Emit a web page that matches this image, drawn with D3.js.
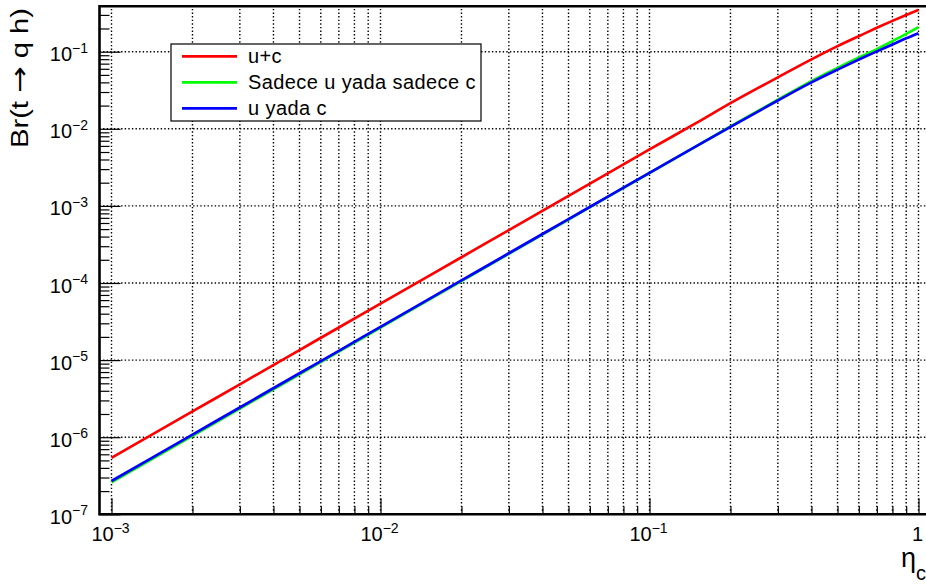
<!DOCTYPE html>
<html>
<head>
<meta charset="utf-8">
<script src="https://cdn.jsdelivr.net/npm/d3@7"></script>
<style>
  html, body { margin: 0; padding: 0; background: #fff; }
  svg { display: block; }
  text { font-family: "Liberation Sans", Arial, Helvetica, sans-serif; fill: #000; }
</style>
</head>
<body>
<svg id="chart" width="926" height="588"></svg>
<script>
// ---------------- data ----------------
const eta = [0.001, 0.002, 0.003, 0.005, 0.007, 0.01, 0.02, 0.03, 0.05, 0.07, 0.1,
             0.15, 0.2, 0.3, 0.4, 0.5, 0.6, 0.7, 0.8, 0.9, 1.0];
const brUC = [5.4e-7, 2.16e-6, 4.85e-6, 1.35e-5, 2.65e-5, 5.4e-5, 2.16e-4, 4.86e-4, 1.35e-3, 2.64e-3, 5.4e-3,
              1.2e-2, 2.15e-2, 4.65e-2, 7.95e-2, 0.118, 0.159, 0.204, 0.251, 0.30, 0.35];
const brOnly = [2.6e-7, 1.04e-6, 2.35e-6, 6.55e-6, 1.29e-5, 2.64e-5, 1.06e-4, 2.39e-4, 6.65e-4, 1.31e-3, 2.67e-3,
                6.0e-3, 1.07e-2, 2.38e-2, 4.15e-2, 0.0615, 0.084, 0.108, 0.137, 0.17, 0.208];
const brOr = [2.7e-7, 1.08e-6, 2.43e-6, 6.75e-6, 1.32e-5, 2.7e-5, 1.08e-4, 2.43e-4, 6.74e-4, 1.32e-3, 2.68e-3,
              6.0e-3, 1.06e-2, 2.33e-2, 4.0e-2, 0.0585, 0.079, 0.101, 0.124, 0.149, 0.174];
const seriesNames = ["u+c", "Sadece u yada sadece c", "u yada c"];
const seriesColors = ["#ff0000", "#00ff00", "#0000ff"];
const xMajorTicks = [1e-3, 1e-2, 1e-1, 1];
const xTickLabels = [["10", "\u22123"], ["10", "\u22122"], ["10", "\u22121"], ["1", ""]];
const yMajorTicks = [1e-7, 1e-6, 1e-5, 1e-4, 1e-3, 1e-2, 1e-1];
const yTickLabels = [["10","\u22127"],["10","\u22126"],["10","\u22125"],["10","\u22124"],["10","\u22123"],["10","\u22122"],["10","\u22121"]];
const xTitle = ["\u03b7", "c"];
const yTitleParts = ["Br(t ", "\u2192", " q h)"];

// ---------------- layout ----------------
const W = 926, H = 588;
const frameL = 99.5, frameT = 6.2, frameB = 514.3, frameR = 940;
const x = d3.scaleLog().domain([1e-3, 1]).range([111.5, 918.5]);
const y = d3.scaleLog().domain([1e-7, 1e-1]).range([514.3, 51.7]);

const xLo = x.invert(frameL), xHi = x.invert(frameR);
const yTop = y.invert(frameT);

function minorTicks(lo, hi) {
  const out = [];
  for (let e = Math.floor(Math.log10(lo)); e <= Math.ceil(Math.log10(hi)); e++) {
    for (let m = 2; m <= 9; m++) {
      const v = m * Math.pow(10, e);
      if (v > lo && v < hi) out.push(v);
    }
  }
  return out;
}
const xMinor = minorTicks(xLo, xHi);
const yMinor = minorTicks(1e-7, yTop);

const svg = d3.select("#chart");
svg.append("rect").attr("width", W).attr("height", H).attr("fill", "#fff");

// ---------------- grid ----------------
const grid = svg.append("g").attr("stroke", "#000").attr("stroke-width", 1.4).attr("stroke-dasharray", "1.4,2.2");
grid.selectAll("line.vx").data(xMajorTicks.concat(xMinor)).join("line")
  .attr("x1", d => x(d)).attr("x2", d => x(d))
  .attr("y1", frameB).attr("y2", frameT);
grid.selectAll("line.hy").data(yMajorTicks.filter(v => v > 1e-7)).join("line")
  .attr("class", "hy")
  .attr("x1", frameL).attr("x2", frameR)
  .attr("y1", d => y(d)).attr("y2", d => y(d));

// ---------------- curves ----------------
svg.append("clipPath").attr("id", "clip").append("rect")
  .attr("x", frameL).attr("y", frameT).attr("width", frameR - frameL).attr("height", frameB - frameT);
const line = d3.line().x(d => x(d[0])).y(d => y(d[1])).curve(d3.curveMonotoneX);
const allSeries = [brUC, brOnly, brOr];
const curves = svg.append("g").attr("clip-path", "url(#clip)");
allSeries.forEach((s, i) => {
  curves.append("path")
    .attr("d", line(eta.map((e, j) => [e, s[j]])))
    .attr("fill", "none")
    .attr("stroke", seriesColors[i])
    .attr("stroke-width", 2.7)
    .attr("stroke-linejoin", "round");
});

// ---------------- axes ----------------
const gx = svg.append("g").attr("transform", `translate(0,${frameB})`);
gx.call(d3.axisBottom(x).tickValues(xMajorTicks).tickSize(-16).tickFormat(""));
const gxm = svg.append("g").attr("transform", `translate(0,${frameB})`);
gxm.call(d3.axisBottom(x).tickValues(xMinor).tickSize(-8).tickFormat(""));
const gy = svg.append("g").attr("transform", `translate(${frameL},0)`);
gy.call(d3.axisLeft(y).tickValues(yMajorTicks).tickSize(-21).tickFormat(""));
const gym = svg.append("g").attr("transform", `translate(${frameL},0)`);
gym.call(d3.axisLeft(y).tickValues(yMinor).tickSize(-10).tickFormat(""));
[gx, gxm, gy, gym].forEach(g => {
  g.select(".domain").remove();
  g.selectAll(".tick line").attr("stroke", "#000").attr("stroke-width", 1.2);
});

// frame
const frame = svg.append("g").attr("stroke", "#000").attr("stroke-width", 2.6).attr("fill", "none");
frame.append("path").attr("d", `M${frameR},${frameT}H${frameL}V${frameB}H${frameR}`).attr("stroke-linejoin", "miter");

// ---------------- tick labels ----------------
const yl = svg.append("g");
yMajorTicks.forEach((v, i) => {
  const t = yl.append("text").attr("x", 88).attr("y", y(v) + 9.5)
    .attr("text-anchor", "end").attr("font-size", 20);
  t.append("tspan").text(yTickLabels[i][0]);
  t.append("tspan").attr("font-size", 14).attr("dy", -8.5).text(yTickLabels[i][1]);
});
const xl = svg.append("g");
xMajorTicks.forEach((v, i) => {
  const t = xl.append("text").attr("x", x(v) - 1).attr("y", 541)
    .attr("text-anchor", "middle").attr("font-size", 20);
  t.append("tspan").text(xTickLabels[i][0]);
  if (xTickLabels[i][1]) t.append("tspan").attr("font-size", 14).attr("dy", -8.5).text(xTickLabels[i][1]);
});

// ---------------- titles ----------------
const xt = svg.append("text").attr("x", 901).attr("y", 567).attr("font-size", 27);
xt.append("tspan").text(xTitle[0]);
xt.append("tspan").attr("font-size", 20).attr("dy", 13).text(xTitle[1]);

const yt = svg.append("text")
  .attr("transform", "translate(28,78) rotate(-90)")
  .attr("text-anchor", "middle")
  .attr("font-size", 23)
  .attr("textLength", 140)
  .attr("lengthAdjust", "spacingAndGlyphs");
yt.append("tspan").text(yTitleParts[0]);
yt.append("tspan").attr("font-family", "'DejaVu Sans', sans-serif").attr("font-size", 25).text(yTitleParts[1]);
yt.append("tspan").text(yTitleParts[2]);

// ---------------- legend ----------------
const lg = svg.append("g");
lg.append("rect").attr("x", 171).attr("y", 44).attr("width", 310).attr("height", 77)
  .attr("fill", "#fff").attr("stroke", "#000").attr("stroke-width", 1.2);
const rowY = [56.3, 82.3, 108.3];
seriesNames.forEach((n, i) => {
  lg.append("line").attr("x1", 182).attr("x2", 237).attr("y1", rowY[i]).attr("y2", rowY[i])
    .attr("stroke", seriesColors[i]).attr("stroke-width", 2.7);
  lg.append("text").attr("x", 248).attr("y", rowY[i] + 6.5).attr("font-size", 20)
    .attr("letter-spacing", 0.4).text(n);
});
</script>
</body>
</html>
